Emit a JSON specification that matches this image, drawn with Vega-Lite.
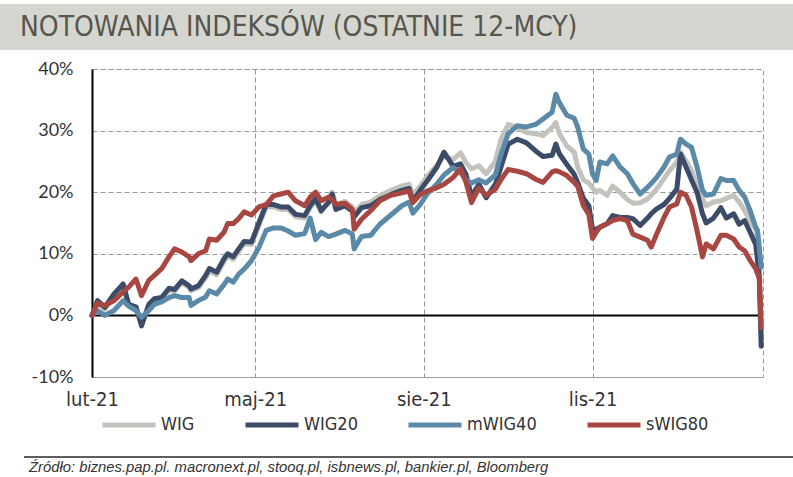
{
  "$schema": "https://vega.github.io/schema/vega-lite/v6.json",
  "padding": {"left": 0, "top": 4, "right": 0, "bottom": 0},
  "background": "white",
  "columns": 1,
  "align": "none",
  "spacing": 9,
  "config": {
    "font": "Lato",
    "view": {"stroke": "#999999", "strokeDash": [5, 3], "strokeWidth": 1},
    "axis": {"labelColor": "#333333", "gridColor": "#999999", "gridDash": [5, 3], "gridWidth": 1, "ticks": false, "title": null}
  },
  "datasets": {
    "idx": [
      {"d":"2021-02-24","WIG":0,"WIG20":0,"mWIG40":0,"sWIG80":0},
      {"d":"2021-02-27","WIG":2.0,"WIG20":2.4,"mWIG40":0.8,"sWIG80":2.0},
      {"d":"2021-03-03","WIG":1.0,"WIG20":1.3,"mWIG40":0.0,"sWIG80":1.6},
      {"d":"2021-03-08","WIG":3.2,"WIG20":3.5,"mWIG40":0.8,"sWIG80":2.4},
      {"d":"2021-03-13","WIG":4.8,"WIG20":5.1,"mWIG40":2.4,"sWIG80":3.8},
      {"d":"2021-03-16","WIG":1.6,"WIG20":1.8,"mWIG40":1.5,"sWIG80":4.6},
      {"d":"2021-03-20","WIG":1.1,"WIG20":1.4,"mWIG40":0.8,"sWIG80":5.9},
      {"d":"2021-03-23","WIG":-1.3,"WIG20":-1.7,"mWIG40":-0.3,"sWIG80":3.2},
      {"d":"2021-03-27","WIG":1.5,"WIG20":1.8,"mWIG40":0.8,"sWIG80":5.7},
      {"d":"2021-03-30","WIG":2.4,"WIG20":2.7,"mWIG40":1.8,"sWIG80":6.5},
      {"d":"2021-04-03","WIG":2.6,"WIG20":2.9,"mWIG40":2.2,"sWIG80":7.6},
      {"d":"2021-04-07","WIG":4.1,"WIG20":4.4,"mWIG40":2.9,"sWIG80":9.5},
      {"d":"2021-04-10","WIG":3.9,"WIG20":4.2,"mWIG40":3.2,"sWIG80":10.8},
      {"d":"2021-04-14","WIG":5.3,"WIG20":5.6,"mWIG40":2.9,"sWIG80":10.3},
      {"d":"2021-04-18","WIG":4.5,"WIG20":4.8,"mWIG40":2.9,"sWIG80":9.5},
      {"d":"2021-04-19","WIG":4.0,"WIG20":4.3,"mWIG40":1.6,"sWIG80":8.9},
      {"d":"2021-04-23","WIG":4.5,"WIG20":4.8,"mWIG40":2.4,"sWIG80":10.0},
      {"d":"2021-04-27","WIG":6.1,"WIG20":6.5,"mWIG40":3.0,"sWIG80":10.5},
      {"d":"2021-04-29","WIG":7.2,"WIG20":7.6,"mWIG40":4.0,"sWIG80":12.4},
      {"d":"2021-05-03","WIG":6.6,"WIG20":7.0,"mWIG40":3.5,"sWIG80":12.2},
      {"d":"2021-05-07","WIG":8.8,"WIG20":9.2,"mWIG40":5.0,"sWIG80":13.5},
      {"d":"2021-05-09","WIG":9.6,"WIG20":10.0,"mWIG40":5.9,"sWIG80":14.9},
      {"d":"2021-05-12","WIG":9.1,"WIG20":9.5,"mWIG40":5.4,"sWIG80":14.9},
      {"d":"2021-05-15","WIG":10.4,"WIG20":10.8,"mWIG40":6.7,"sWIG80":15.7},
      {"d":"2021-05-18","WIG":11.6,"WIG20":12.0,"mWIG40":7.5,"sWIG80":16.8},
      {"d":"2021-05-22","WIG":11.5,"WIG20":11.9,"mWIG40":8.9,"sWIG80":16.3},
      {"d":"2021-05-26","WIG":14.6,"WIG20":15.0,"mWIG40":11.0,"sWIG80":17.6},
      {"d":"2021-05-30","WIG":17.6,"WIG20":18.0,"mWIG40":13.8,"sWIG80":18.0},
      {"d":"2021-06-03","WIG":17.6,"WIG20":18.0,"mWIG40":14.2,"sWIG80":19.4},
      {"d":"2021-06-07","WIG":17.2,"WIG20":17.6,"mWIG40":14.2,"sWIG80":19.7},
      {"d":"2021-06-11","WIG":17.2,"WIG20":17.6,"mWIG40":13.7,"sWIG80":20.0},
      {"d":"2021-06-15","WIG":16.0,"WIG20":16.4,"mWIG40":13.0,"sWIG80":18.6},
      {"d":"2021-06-20","WIG":15.8,"WIG20":16.2,"mWIG40":13.3,"sWIG80":17.8},
      {"d":"2021-06-23","WIG":17.5,"WIG20":17.8,"mWIG40":15.8,"sWIG80":19.2},
      {"d":"2021-06-26","WIG":18.6,"WIG20":19.0,"mWIG40":12.3,"sWIG80":20.0},
      {"d":"2021-06-29","WIG":16.8,"WIG20":17.0,"mWIG40":13.5,"sWIG80":18.6},
      {"d":"2021-07-03","WIG":18.8,"WIG20":18.3,"mWIG40":12.8,"sWIG80":19.2},
      {"d":"2021-07-05","WIG":20.0,"WIG20":19.7,"mWIG40":13.0,"sWIG80":18.8},
      {"d":"2021-07-07","WIG":18.0,"WIG20":17.2,"mWIG40":13.2,"sWIG80":18.0},
      {"d":"2021-07-12","WIG":18.5,"WIG20":17.8,"mWIG40":13.8,"sWIG80":18.2},
      {"d":"2021-07-16","WIG":17.6,"WIG20":16.9,"mWIG40":13.2,"sWIG80":17.2},
      {"d":"2021-07-17","WIG":16.6,"WIG20":16.0,"mWIG40":10.8,"sWIG80":14.0},
      {"d":"2021-07-21","WIG":18.0,"WIG20":17.5,"mWIG40":12.8,"sWIG80":15.6},
      {"d":"2021-07-26","WIG":18.4,"WIG20":17.8,"mWIG40":13.0,"sWIG80":17.0},
      {"d":"2021-07-31","WIG":19.4,"WIG20":18.8,"mWIG40":14.8,"sWIG80":18.6},
      {"d":"2021-08-06","WIG":20.3,"WIG20":19.6,"mWIG40":16.3,"sWIG80":19.5},
      {"d":"2021-08-12","WIG":21.0,"WIG20":20.3,"mWIG40":17.8,"sWIG80":19.9},
      {"d":"2021-08-16","WIG":21.3,"WIG20":20.6,"mWIG40":18.4,"sWIG80":20.2},
      {"d":"2021-08-18","WIG":19.5,"WIG20":18.5,"mWIG40":16.6,"sWIG80":18.3},
      {"d":"2021-08-22","WIG":21.0,"WIG20":20.3,"mWIG40":18.0,"sWIG80":19.6},
      {"d":"2021-08-26","WIG":22.6,"WIG20":21.9,"mWIG40":19.8,"sWIG80":20.2},
      {"d":"2021-08-31","WIG":24.3,"WIG20":24.0,"mWIG40":21.3,"sWIG80":20.7},
      {"d":"2021-09-04","WIG":25.8,"WIG20":26.5,"mWIG40":22.8,"sWIG80":21.3},
      {"d":"2021-09-09","WIG":25.3,"WIG20":24.2,"mWIG40":24.0,"sWIG80":22.4},
      {"d":"2021-09-13","WIG":26.4,"WIG20":24.6,"mWIG40":23.2,"sWIG80":23.8},
      {"d":"2021-09-16","WIG":24.8,"WIG20":22.9,"mWIG40":22.0,"sWIG80":21.6},
      {"d":"2021-09-19","WIG":23.8,"WIG20":19.3,"mWIG40":21.5,"sWIG80":18.3},
      {"d":"2021-09-23","WIG":24.3,"WIG20":21.3,"mWIG40":22.0,"sWIG80":20.7},
      {"d":"2021-09-27","WIG":23.0,"WIG20":19.1,"mWIG40":21.5,"sWIG80":19.5},
      {"d":"2021-10-02","WIG":25.0,"WIG20":21.3,"mWIG40":22.8,"sWIG80":20.5},
      {"d":"2021-10-05","WIG":28.5,"WIG20":24.0,"mWIG40":26.0,"sWIG80":22.0},
      {"d":"2021-10-09","WIG":31.0,"WIG20":27.8,"mWIG40":29.5,"sWIG80":23.7},
      {"d":"2021-10-14","WIG":30.5,"WIG20":28.6,"mWIG40":30.8,"sWIG80":23.4},
      {"d":"2021-10-19","WIG":29.7,"WIG20":28.0,"mWIG40":30.6,"sWIG80":23.0},
      {"d":"2021-10-24","WIG":29.5,"WIG20":26.7,"mWIG40":31.0,"sWIG80":22.1},
      {"d":"2021-10-28","WIG":29.2,"WIG20":25.8,"mWIG40":31.9,"sWIG80":21.6},
      {"d":"2021-11-02","WIG":30.5,"WIG20":26.0,"mWIG40":33.0,"sWIG80":23.3},
      {"d":"2021-11-04","WIG":31.3,"WIG20":27.8,"mWIG40":35.9,"sWIG80":23.5},
      {"d":"2021-11-06","WIG":29.5,"WIG20":26.2,"mWIG40":34.5,"sWIG80":23.3},
      {"d":"2021-11-10","WIG":27.5,"WIG20":24.5,"mWIG40":32.5,"sWIG80":22.7},
      {"d":"2021-11-14","WIG":26.5,"WIG20":22.9,"mWIG40":32.0,"sWIG80":21.6},
      {"d":"2021-11-16","WIG":24.0,"WIG20":21.5,"mWIG40":30.5,"sWIG80":20.9},
      {"d":"2021-11-19","WIG":22.0,"WIG20":19.0,"mWIG40":27.0,"sWIG80":17.8},
      {"d":"2021-11-22","WIG":21.5,"WIG20":17.8,"mWIG40":26.2,"sWIG80":16.4},
      {"d":"2021-11-24","WIG":20.7,"WIG20":14.0,"mWIG40":23.0,"sWIG80":12.5},
      {"d":"2021-11-26","WIG":20.0,"WIG20":14.0,"mWIG40":21.9,"sWIG80":13.5},
      {"d":"2021-11-28","WIG":20.3,"WIG20":14.3,"mWIG40":24.9,"sWIG80":14.3},
      {"d":"2021-12-02","WIG":19.5,"WIG20":14.9,"mWIG40":24.6,"sWIG80":14.9},
      {"d":"2021-12-05","WIG":21.0,"WIG20":16.2,"mWIG40":25.9,"sWIG80":15.4},
      {"d":"2021-12-09","WIG":20.0,"WIG20":15.9,"mWIG40":24.1,"sWIG80":15.7},
      {"d":"2021-12-13","WIG":18.8,"WIG20":15.9,"mWIG40":23.0,"sWIG80":15.4},
      {"d":"2021-12-16","WIG":18.2,"WIG20":15.7,"mWIG40":21.4,"sWIG80":13.2},
      {"d":"2021-12-20","WIG":18.3,"WIG20":14.6,"mWIG40":19.7,"sWIG80":12.7},
      {"d":"2021-12-24","WIG":18.9,"WIG20":15.8,"mWIG40":20.8,"sWIG80":12.2},
      {"d":"2021-12-26","WIG":19.5,"WIG20":16.5,"mWIG40":21.4,"sWIG80":11.1},
      {"d":"2021-12-29","WIG":20.5,"WIG20":17.3,"mWIG40":22.4,"sWIG80":13.2},
      {"d":"2022-01-02","WIG":22.2,"WIG20":18.0,"mWIG40":24.1,"sWIG80":15.9},
      {"d":"2022-01-05","WIG":23.5,"WIG20":19.0,"mWIG40":25.7,"sWIG80":17.6},
      {"d":"2022-01-09","WIG":24.9,"WIG20":20.5,"mWIG40":26.2,"sWIG80":18.1},
      {"d":"2022-01-11","WIG":26.5,"WIG20":26.2,"mWIG40":28.6,"sWIG80":20.0},
      {"d":"2022-01-14","WIG":25.1,"WIG20":24.1,"mWIG40":27.8,"sWIG80":19.5},
      {"d":"2022-01-17","WIG":23.5,"WIG20":22.0,"mWIG40":27.3,"sWIG80":17.6},
      {"d":"2022-01-20","WIG":21.0,"WIG20":20.0,"mWIG40":24.1,"sWIG80":13.8},
      {"d":"2022-01-23","WIG":18.9,"WIG20":16.5,"mWIG40":20.3,"sWIG80":9.5},
      {"d":"2022-01-25","WIG":17.8,"WIG20":15.0,"mWIG40":19.5,"sWIG80":11.6},
      {"d":"2022-01-29","WIG":18.4,"WIG20":15.8,"mWIG40":19.7,"sWIG80":10.8},
      {"d":"2022-02-02","WIG":18.6,"WIG20":17.5,"mWIG40":22.2,"sWIG80":13.0},
      {"d":"2022-02-05","WIG":19.0,"WIG20":15.8,"mWIG40":21.9,"sWIG80":13.0},
      {"d":"2022-02-09","WIG":19.5,"WIG20":16.5,"mWIG40":21.9,"sWIG80":12.4},
      {"d":"2022-02-12","WIG":18.4,"WIG20":14.8,"mWIG40":20.3,"sWIG80":11.1},
      {"d":"2022-02-15","WIG":17.0,"WIG20":15.4,"mWIG40":19.2,"sWIG80":10.5},
      {"d":"2022-02-18","WIG":15.4,"WIG20":13.5,"mWIG40":17.0,"sWIG80":8.9},
      {"d":"2022-02-21","WIG":14.0,"WIG20":11.5,"mWIG40":14.3,"sWIG80":7.6},
      {"d":"2022-02-22","WIG":12.5,"WIG20":8.9,"mWIG40":13.8,"sWIG80":6.8},
      {"d":"2022-02-23","WIG":9.0,"WIG20":6.0,"mWIG40":11.0,"sWIG80":6.0},
      {"d":"2022-02-24","WIG":-3.0,"WIG20":-5.0,"mWIG40":7.8,"sWIG80":-2.0}
    ]
  },
  "concat": [
    {
      "width": 793,
      "height": 46,
      "view": {"stroke": null},
      "data": {"values": [{}]},
      "mark": {"type": "rect", "color": "#d6d6d0"},
      "encoding": {},
      "title": {
        "text": "NOTOWANIA INDEKSÓW (OSTATNIE 12-MCY)",
        "anchor": "start",
        "frame": "group",
        "offset": -38,
        "dx": 20,
        "font": "DejaVu Sans Condensed",
        "fontSize": 28,
        "fontWeight": "normal",
        "color": "#56564e"
      }
    },
    {
      "spacing": 0,
      "hconcat": [
        {
          "width": 1,
          "height": 1,
          "view": {"stroke": null},
          "data": {"values": [{}]},
          "mark": {"type": "rect", "opacity": 0},
          "encoding": {}
        },
        {
          "width": 671,
          "height": 308,
          "layer": [
            {
              "data": {"values": [{}]},
              "mark": {"type": "rule", "color": "#000000", "strokeWidth": 2},
              "encoding": {"y": {"datum": 0, "type": "quantitative"}}
            },
            {
              "data": {"name": "idx"},
              "transform": [{"fold": ["WIG", "WIG20", "mWIG40", "sWIG80"], "as": ["s", "v"]}],
              "mark": {"type": "line", "strokeWidth": 5, "strokeJoin": "round", "strokeCap": "round"},
              "encoding": {
                "x": {
                  "field": "d",
                  "type": "temporal",
                  "scale": {
                    "type": "utc",
                    "domain": [
                      {"year": 2021, "month": 2, "date": 24, "utc": true},
                      {"year": 2022, "month": 2, "date": 25, "utc": true}
                    ]
                  },
                  "axis": {
                    "values": [
                      {"year": 2021, "month": 2, "date": 24, "utc": true},
                      {"year": 2021, "month": 5, "date": 24, "utc": true},
                      {"year": 2021, "month": 8, "date": 24, "utc": true},
                      {"year": 2021, "month": 11, "date": 24, "utc": true}
                    ],
                    "labelExpr": "['sty','lut','mar','kwi','maj','cze','lip','sie','wrz','paź','lis','gru'][utcmonth(datum.value)] + '-' + utcFormat(datum.value, '%y')",
                    "labelFont": "DejaVu Sans Condensed",
                    "labelFontSize": 20,
                    "labelPadding": 12,
                    "labelFlush": false,
                    "labelOverlap": false,
                    "domain": false,
                    "grid": true
                  }
                },
                "y": {
                  "field": "v",
                  "type": "quantitative",
                  "scale": {"domain": [-10, 40]},
                  "axis": {
                    "values": [-10, -5, 0, 5, 10, 15, 20, 25, 30, 35, 40],
                    "labelExpr": "datum.value + '%'",
                    "labelFont": "Lato",
                    "labelFontSize": 18,
                    "labelPadding": 19,
                    "labelOverlap": false,
                    "minExtent": 90,
                    "domainColor": "#000000",
                    "domainWidth": 2,
                    "grid": true
                  }
                },
                "color": {
                  "field": "s",
                  "type": "nominal",
                  "scale": {
                    "domain": ["WIG", "WIG20", "mWIG40", "sWIG80"],
                    "range": ["#c3c3bd", "#3c4b68", "#5b89a8", "#a84741"]
                  },
                  "legend": {
                    "orient": "none",
                    "legendX": 88,
                    "legendY": 380,
                    "direction": "horizontal",
                    "title": null,
                    "symbolType": "stroke",
                    "symbolSize": 2809,
                    "symbolStrokeWidth": 5,
                    "labelFont": "DejaVu Sans Condensed",
                    "labelFontSize": 18,
                    "labelColor": "#333333",
                    "labelOffset": 3,
                    "columnPadding": 40,
                    "padding": 12
                  }
                }
              }
            }
          ]
        }
      ]
    },
    {
      "spacing": 22,
      "hconcat": [
        {
          "width": 1,
          "height": 39,
          "view": {"stroke": null},
          "data": {"values": [{}]},
          "mark": {"type": "rect", "opacity": 0},
          "encoding": {}
        },
        {
          "width": 770,
          "height": 39,
          "view": {"stroke": null},
          "layer": [
            {
              "data": {"values": [{}]},
              "mark": {"type": "rule", "color": "#5e5e5e", "strokeWidth": 2},
              "encoding": {
                "y": {"datum": 38, "type": "quantitative", "scale": {"domain": [0, 39], "reverse": true, "nice": false, "zero": false}, "axis": null}
              }
            }
          ],
          "title": {
            "text": "Źródło: biznes.pap.pl. macronext.pl, stooq.pl, isbnews.pl, bankier.pl, Bloomberg",
            "orient": "bottom",
            "anchor": "start",
            "frame": "group",
            "dx": 5,
            "offset": 2,
            "font": "Liberation Sans",
            "fontStyle": "italic",
            "fontSize": 14.8,
            "fontWeight": "normal",
            "color": "#333333"
          }
        }
      ]
    }
  ]
}
